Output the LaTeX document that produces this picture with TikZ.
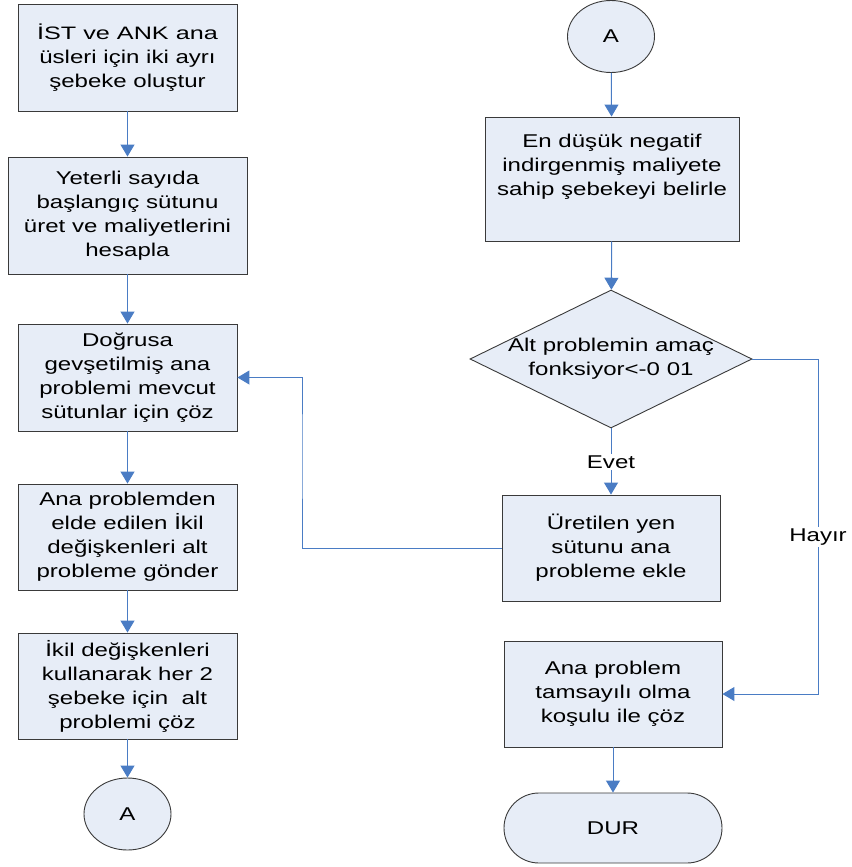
\documentclass[tikz,border=0pt]{standalone}
\usepackage{fontspec}
\setmainfont[FakeStretch=1.3]{Liberation Sans}
\newfontfamily\widefont[FakeStretch=1.4]{Liberation Sans}
\usetikzlibrary{shapes.geometric,arrows.meta}

\definecolor{boxfill}{HTML}{E7EDF7}
\definecolor{boxline}{HTML}{3A3A3A}
\definecolor{flowblue}{HTML}{4A7CC4}

\newcommand{\boxfont}{\fontsize{18.5}{24}\selectfont}

\tikzset{
  box/.style={draw=boxline, fill=boxfill, line width=0.9pt, inner sep=0pt,
              align=center, font=\boxfont, text=black},
  txt/.style={inner sep=0pt, align=center, font=\boxfont, text=black},
  flow/.style={draw=flowblue, line width=1pt,
               -{Triangle[width=14pt,length=12pt]}},
  lbl/.style={fill=white, inner sep=2pt, font=\boxfont, text=black},
  conn/.style={box, ellipse, minimum width=87pt, minimum height=72pt}
}

\begin{document}
\begin{tikzpicture}[x=1pt,y=-1pt]
\useasboundingbox (0,0) rectangle (851,867);

% left column
\node[box, minimum width=219pt, minimum height=107pt] (b1) at (127.5,57.5)
  {\widefont\fontsize{18}{20}\selectfont İST ve ANK ana\\üsleri için iki ayrı\\şebeke oluştur};
\node[box, minimum width=239pt, minimum height=117pt] (b2) at (127.5,215.5)
  {Yeterli sayıda\\başlangıç sütunu\\üret ve maliyetlerini\\hesapla};
\node[box, minimum width=219pt, minimum height=107pt] (b3) at (127.5,377.5)
  {Doğrusa\\gevşetilmiş ana\\problemi mevcut\\sütunlar için çöz};
\node[box, minimum width=219pt, minimum height=106pt] (b4) at (127.5,537)
  {Ana problemden\\elde edilen İkil\\değişkenleri alt\\probleme gönder};
\node[box, minimum width=219pt, minimum height=106pt] (b5) at (127.5,686)
  {İkil değişkenleri\\kullanarak her 2\\şebeke için~ alt\\problemi çöz};
\node[conn] (a1) at (127.5,814) {A};

% right column
\node[conn] (a2) at (611,36.5) {A};
\node[box, minimum width=254pt, minimum height=124pt] (b6) at (612,179) {};
\node[txt] (t6) at ([yshift=12pt]b6.center)
  {\fontsize{18.5}{22.5}\selectfont En düşük negatif\\indirgenmiş maliyete\\sahip şebekeyi belirle};
\node[box, diamond, minimum width=282pt, minimum height=138pt] (dm) at (611,359) {};
\node[txt] (td) at (dm.center)
  {\fontsize{18.5}{22}\selectfont Alt problemin amaç\\fonksiyor<-0 01};
\node[box, minimum width=218pt, minimum height=106pt] (b7) at (611,548)
  {Üretilen yen\\sütunu ana\\probleme ekle};
\node[box, minimum width=218pt, minimum height=106pt] (b8) at (613,694)
  {Ana problem\\tamsayılı olma\\koşulu ile çöz};
\node[box, rounded corners=35pt, minimum width=218pt, minimum height=70pt] (dur) at (613,828) {DUR};

% bend points of the return and exit paths
\coordinate (j1) at (302,450);
\coordinate (j2) at (818,530);

% connectors
\draw[flow] (b1) -- (b2);
\draw[flow] (b2) -- (b3);
\draw[flow] (b3) -- (b4);
\draw[flow] (b4) -- (b5);
\draw[flow] (b5) -- (a1);
\draw[flow] (a2) -- (b6);
\draw[flow] (b6) -- (dm);
\draw[flow] (dm) -- (b7);
\draw[flow] (b8) -- (dur);
\draw[flow] (b7.west) -| (j1) |- (b3.east);
\draw[flow] (dm.east) -| (j2) |- (b8.east);

% branch labels
\node[lbl] (evet) at (611,462) {Evet};
\node[lbl] (hayir) at (818,537) {Hayır};
\end{tikzpicture}
\end{document}
